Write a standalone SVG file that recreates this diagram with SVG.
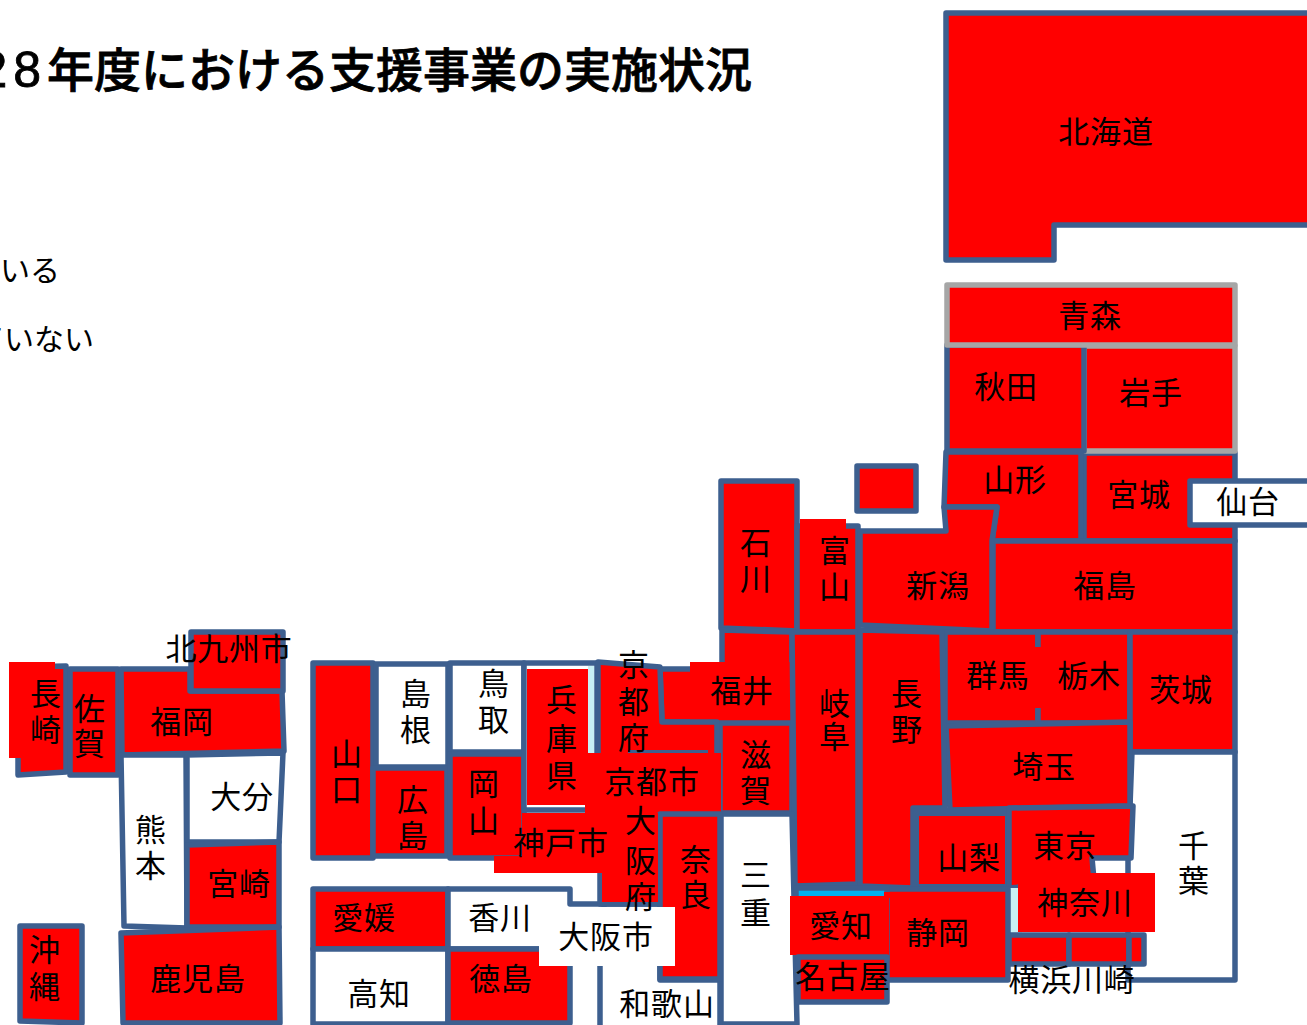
<svg xmlns="http://www.w3.org/2000/svg" width="1307" height="1025" viewBox="0 0 1307 1025">
<style>
text{font-family:"Liberation Sans","Noto Sans CJK JP",sans-serif;font-size:31px;fill:#000;text-anchor:middle;letter-spacing:.8px}
.r{fill:#f00}.w{fill:#fff}
.n polygon,.n rect,.n polyline{stroke:#3D5F8F;stroke-width:5.5;stroke-linejoin:round}
.n polyline{fill:none}
.g polygon,.g rect{stroke:#A6A6A6;stroke-width:5.5;stroke-linejoin:round}
.n .b,.g .b{stroke:none}
.t{font-size:47px;font-weight:500;letter-spacing:0;stroke:#000;stroke-width:.8}
.d{font-size:50px;font-weight:400;letter-spacing:6px}
.s{font-size:30px;letter-spacing:0;text-anchor:start}
</style>
<rect width="1307" height="1025" fill="#fff"/>
<text id="title" class="t" x="752" y="87" style="text-anchor:end"><tspan class="d">28</tspan>年度における支援事業の実施状況</text>
<text id="legend1" class="s" x="0" y="281">いる</text>
<text id="legend2" class="s" x="-26" y="350">ていない</text>

<g id="hokkaido" class="n"><polygon class="r" points="946,13 1312,13 1312,225 1054,225 1054,260 946,260"/><text x="1106" y="143">北海道</text></g>
<g id="miyagi" class="n"><polygon class="r" points="1084,453 1235,453 1235,541 1084,541"/><text x="1139" y="506">宮城</text></g>
<g id="iwate" class="g"><polygon class="r" points="1084,346 1235,346 1235,451 1084,451"/><text x="1151" y="404">岩手</text></g>
<g id="akita" class="n"><polygon class="r" points="947,345 1084,345 1084,451 947,451"/><text x="1006" y="398">秋田</text></g>
<g id="yamagata" class="n"><polygon class="r" points="946,452 1081,452 1081,541 992,541 997,507 944,507"/><text x="1015" y="491">山形</text></g>
<g id="aomori" class="g"><rect class="r" x="947" y="285" width="288" height="60"/><text x="1090" y="327">青森</text></g>
<g id="sendai" class="n"><rect class="w" x="1190" y="481" width="125" height="44"/><text x="1248" y="513">仙台</text></g>
<g id="fukushima" class="n"><rect class="r" x="993" y="541" width="242" height="91"/><text x="1105" y="597">福島</text></g>
<g id="sado" class="n"><rect class="r" x="857" y="466" width="59" height="45"/></g>
<g id="ishikawa" class="n"><polygon class="r" points="721,481 797,481 797,631 721,628"/><text x="756" y="554">石</text><text x="756" y="590">川</text></g>
<g id="toyama" class="n"><rect class="r" x="797" y="526" width="61" height="106"/><rect class="r b" x="800" y="519" width="46" height="24"/><text x="835" y="562">富</text><text x="835" y="598">山</text></g>
<g id="niigata" class="n"><polygon class="r" points="860,531 946,531 944,507 997,507 992,541 992,631 860,625"/><text x="938" y="597">新潟</text></g>

<g id="gunma" class="n"><polygon class="r" points="945,632 1038,632 1038,723 945,723"/></g>
<g id="tochigi" class="n"><polygon class="r" points="1038,632 1130,632 1130,723 1038,723"/><rect class="r b" x="948" y="647" width="90" height="61"/><rect class="r b" x="1036" y="647" width="90" height="61"/><text x="998" y="687">群馬</text><text x="1089" y="687">栃木</text></g>
<g id="ibaraki" class="n"><rect class="r" x="1130" y="632" width="105" height="120"/><text x="1181" y="701">茨城</text></g>
<g id="chiba" class="n"><polygon class="w" points="1132,752 1235,752 1235,980 1128,980 1128,860"/><text x="1194" y="857">千</text><text x="1194" y="892">葉</text></g>
<g id="saitama" class="n"><polygon class="r" points="946,726 1130,722 1130,806 950,810"/><text x="1044" y="778">埼玉</text></g>
<g id="fukui" class="n"><polygon class="r" points="722,630 792,632 792,722 662,722 660,669 722,669"/><rect class="r b" x="690" y="662" width="102" height="59"/><text x="742" y="702">福井</text></g>
<g id="shiga" class="n"><rect class="r" x="720" y="723" width="72" height="90"/><text x="756" y="766">滋</text><text x="756" y="802">賀</text></g>
<g id="gifu" class="n"><polygon class="r" points="792,632 858,632 858,884 795,886"/><text x="835" y="715">岐</text><text x="835" y="748">阜</text></g>
<g id="nagano" class="n"><polygon class="r" points="860,630 942,632 945,808 913,808 913,888 860,886"/><text x="907" y="705">長</text><text x="907" y="741">野</text></g>
<g id="yamanashi" class="n"><polygon class="r" style="stroke-width:8" points="915,812 1009,812 1009,888 915,888"/><text x="969" y="869">山梨</text></g>
<g id="tokyo" class="n"><polygon class="r" points="1009,808 1133,806 1131,858 1092,858 1094,880 1009,888"/><text x="1065" y="857">東京</text></g>
<g id="kanagawa" class="n"><rect x="1008" y="888" width="14" height="47" fill="#C8F0F5" class="b"/><rect class="r b" x="1018" y="873" width="137" height="59"/><text x="1085" y="914">神奈川</text></g>
<g id="yokohama" class="n"><rect class="r" x="1009" y="935" width="60" height="29"/><rect class="r" x="1069" y="935" width="60" height="29"/><rect class="r" x="1129" y="935" width="15" height="29"/><text x="1072" y="991">横浜川崎</text></g>
<g id="mie" class="n"><polygon class="w" points="721,814 792,814 797,1024 721,1024"/><text x="756" y="886">三</text><text x="756" y="924">重</text></g>
<g id="shizuoka" class="n"><rect class="r" x="885" y="889" width="123" height="91"/><text x="938" y="944">静岡</text></g>
<g id="aichi" class="n"><rect x="796" y="888" width="91" height="71" fill="#00B0F0"/><rect class="r b" x="790" y="896" width="99" height="59"/><rect class="r b" x="884" y="892" width="6" height="6"/><text x="841" y="937">愛知</text></g>
<g id="nagoya" class="n"><rect class="r" x="798" y="957" width="89" height="45"/><text x="843" y="988">名古屋</text></g>

<g id="yamaguchi" class="n"><rect class="r" x="313" y="663" width="60" height="195"/><text x="347" y="765">山</text><text x="347" y="801">口</text></g>
<g id="shimane" class="n"><rect class="w" x="376" y="664" width="72" height="103"/><text x="416" y="705">島</text><text x="416" y="741">根</text></g>
<g id="hiroshima" class="n"><rect class="r" x="373" y="768" width="74" height="88"/><text x="413" y="811">広</text><text x="413" y="847">島</text></g>
<g id="tottori" class="n"><rect class="w" x="450" y="663" width="74" height="89"/><text x="494" y="695">鳥</text><text x="494" y="731">取</text></g>
<g id="okayama" class="n"><polygon class="r" points="450,754 524,754 524,858 450,858"/><text x="484" y="795">岡</text><text x="484" y="832">山</text></g>
<g id="hyogo" class="n"><polygon points="524,663 597,663 597,810 524,810" fill="#fff"/><rect x="588" y="666" width="6" height="88" fill="#C8F0F5" class="b"/><rect class="r b" x="527" y="669" width="61" height="136"/><text x="562" y="711">兵</text><text x="562" y="750">庫</text><text x="562" y="787">県</text></g>
<g id="kyoto" class="n"><polygon class="r" points="598,662 660,667 662,722 717,722 717,760 598,760"/><rect x="628" y="750" width="80" height="3" fill="#3D5F8F" class="b"/><text x="634" y="676">京</text><text x="634" y="713">都</text><text x="634" y="749">府</text></g>
<g id="kyotoshi" class="n"><rect class="r b" x="585" y="753" width="136" height="60"/><text x="652" y="793">京都市</text></g>
<g id="wakayama" class="n"><polygon class="w" points="600,904 660,904 660,980 720,980 720,1030 600,1030"/><text x="667" y="1015">和歌山</text></g>
<g id="nara" class="n"><polygon class="r" points="660,814 720,814 720,979 660,979"/><text x="696" y="871">奈</text><text x="696" y="906">良</text></g>
<g id="ehime" class="n"><rect class="r" x="313" y="889" width="135" height="60"/><text x="364" y="929">愛媛</text></g>
<g id="kagawa" class="n"><polygon class="w" points="448,889 570,889 570,904 604,904 604,949 448,949"/><text x="500" y="929">香川</text></g>
<g id="kochi" class="n"><rect class="w" x="313" y="949" width="135" height="75"/><text x="379" y="1005">高知</text></g>
<g id="tokushima" class="n"><rect class="r" x="448" y="949" width="122" height="74"/><text x="501" y="990">徳島</text></g>
<g id="osakashi" class="n"><rect class="w b" x="539" y="907" width="136" height="59"/><text x="606" y="948">大阪市</text></g>
<g id="osaka" class="n"><polyline points="600,873 600,904 660,904"/><rect class="r b" x="602" y="813" width="56" height="89"/><text x="641" y="832">大</text><text x="641" y="872">阪</text><text x="641" y="908">府</text></g>
<g id="kobe" class="n"><polygon class="r b" points="522,813 604,813 604,873 494,873 494,856 522,856"/><text x="561" y="854">神戸市</text></g>

<g id="okinawa" class="n"><polygon class="r" points="20,926 82,926 82,1023 20,1021"/><text x="45" y="961">沖</text><text x="45" y="998">縄</text></g>
<g id="nagasaki" class="n"><polygon class="r" points="18,667 66,666 66,772 18,775"/><rect class="r b" x="9" y="662" width="46" height="96"/><text x="46" y="705">長</text><text x="46" y="741">崎</text></g>
<g id="saga" class="n"><rect class="r" x="70" y="669" width="48" height="106"/><text x="90" y="720">佐</text><text x="90" y="755">賀</text></g>
<g id="fukuoka" class="n"><polygon class="r" points="121,669 190,669 190,691 282,691 284,751 122,755"/><text x="182" y="733">福岡</text></g>
<g id="kitakyushu" class="n"><rect class="r" x="191" y="632" width="92" height="59"/><text x="229" y="660">北九州市</text></g>
<g id="kumamoto" class="n"><polygon class="w" points="121,755 186,755 187,928 124,926"/><text x="151" y="841">熊</text><text x="151" y="877">本</text></g>
<g id="oita" class="n"><polygon class="w" points="187,755 283,753 279,842 187,842"/><text x="242" y="808">大分</text></g>
<g id="miyazaki" class="n"><polygon class="r" points="187,845 279,842 279,927 187,927"/><text x="239" y="895">宮崎</text></g>
<g id="kagoshima" class="n"><polygon class="r" points="121,933 279,927 280,1023 123,1023"/><text x="198" y="990">鹿児島</text></g>
<g id="connectors"></g>
</svg>
